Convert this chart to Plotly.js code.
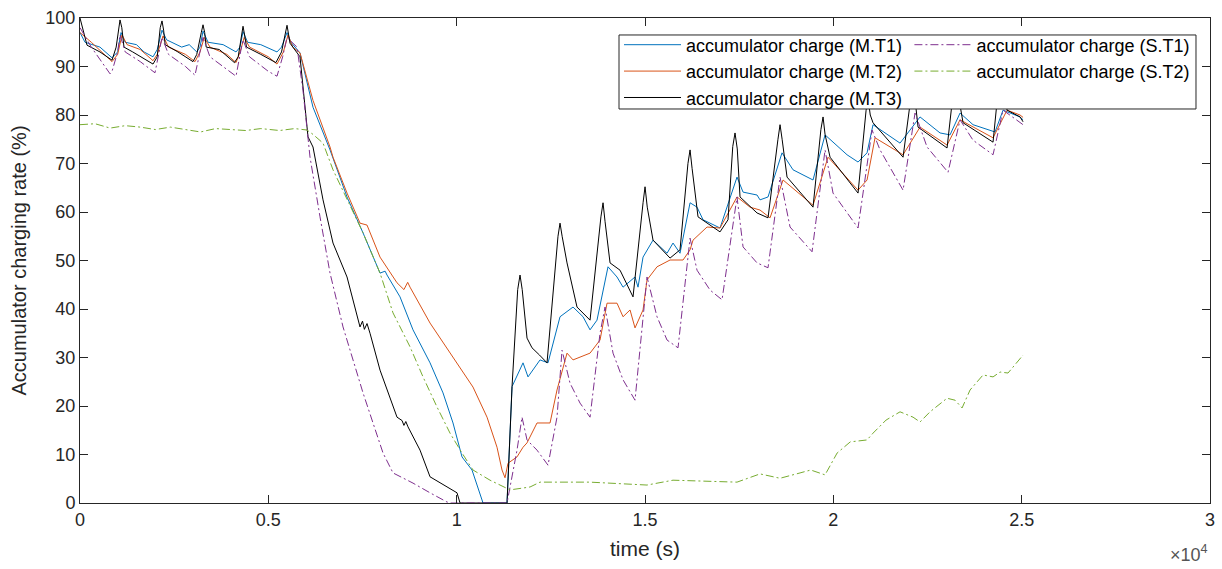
<!DOCTYPE html>
<html>
<head>
<meta charset="utf-8">
<script src="https://cdn.plot.ly/plotly-3.0.1.min.js"></script>
<style>html,body{margin:0;padding:0;background:#fff;}#chart{width:1222px;height:569px;}</style>
</head>
<body>
<div id="chart"></div>
<script>
// ---- Data (time in seconds, charge in %) ----
const mt1_t = [0,133,530,850,1000,1089,1200,1500,1700,1938,2050,2177,2300,2700,2900,3100,3186,3266,3400,3800,4142,4248,4328,4450,4800,5100,5230,5350,5496,5600,5841,6186,6638,7089,7514,7965,8100,8151,8496,8841,9293,9638,9903,10142,10408,10700,11337,11470,11762,11894,12213,12425,12744,13089,13355,13541,13726,14018,14257,14417,14735,14815,14948,15213,15585,15744,15930,16196,16381,16541,16992,17443,17603,17975,18054,18266,18638,18930,19461,19780,20178,20364,20656,20895,21054,21771,22302,22833,23099,23364,23709,24293,24506,24957,25037];
const mt1_v = [97,95,94,91.8,93,97,95,94.5,93,92,93.5,97.5,95.5,94,94.5,93,94,97.3,95,94.5,93,94,97.2,95,94.5,93.5,93,94,97,95,92.8,81.6,72.8,63.1,55.7,47.4,47.8,47,42.5,35.7,28.9,22.7,16.5,9.5,6.8,0,0,24,28.9,26,29.5,28.9,38.4,40.4,38.4,35.7,37.7,48.7,46.6,44.5,46.6,44.5,50.7,54.2,51.5,53.6,51.5,61.9,61,58.4,56.7,67.2,64.1,63.5,62.5,63.1,72.2,68.7,66.6,75.9,73.2,71.8,70.3,72.2,78,74.2,79.6,76.3,75.9,80.4,78,76.5,81,79.6,79];

const mt2_t = [0,300,850,1000,1115,1250,1600,1938,2050,2204,2350,2800,3053,3186,3300,3450,3900,4142,4250,4360,4500,5000,5230,5400,5522,5650,5841,6186,6638,6717,7089,7434,7620,7965,8416,8600,8700,8762,9293,9903,10434,10806,11071,11204,11284,11363,11602,11762,11868,12133,12479,12664,12930,13089,13541,13806,13992,14257,14417,14603,14735,14948,15054,15319,15665,16010,16196,16275,16647,16992,17443,17789,18054,18320,18665,19461,19859,20656,20895,21107,21851,22302,23019,23364,24240,24612,24957,25037];
const mt2_v = [97,95,91,92.5,96.5,94.5,93.5,91.2,92.5,96.3,94,92.5,91,93,96,94,92.5,90.8,93,96,94,92,90.5,93,96.5,94,92.8,83,73.4,71.3,63.9,57.7,57.3,50.7,45.4,44,45.5,44.5,37.1,30.1,23.9,17.7,11.5,6.8,5.2,8.2,9.5,11.5,12.4,16.5,16.5,23.3,30.9,29.5,30.9,33.6,41.2,41.2,38.4,39.8,36.1,39.8,46,48.7,50.1,50.1,52.2,54.2,56.9,56.7,63.1,61,60.4,58.8,66.6,61.4,71.3,64.5,66.6,75.3,71.8,77.5,73.8,79,75.3,81,80,79.5];

const mt3_t = [0,100,186,530,850,960,1020,1062,1110,1168,1400,1938,2050,2130,2177,2220,2260,2600,3000,3100,3220,3266,3310,3350,3700,4100,4200,4280,4328,4370,4420,4800,5200,5350,5450,5496,5540,5576,5841,5974,6053,6186,6452,6717,7089,7434,7500,7550,7620,7700,7965,8416,8550,8600,8650,8708,9027,9293,9744,10009,10089,11300,11337,11470,11620,11682,11740,11868,12000,12200,12399,12690,12744,12800,12930,13195,13541,13830,13886,13940,14072,14337,14682,14950,15001,15060,15213,15665,15930,16140,16196,16250,16408,16992,17204,17330,17390,17450,17523,17975,18266,18530,18585,18640,18771,19461,19670,19727,19780,19913,20656,20870,20921,20980,21054,21851,22116,22249,23019,23231,23444,24240,24426,24612,24957,25037];
const mt3_v = [100,97,94.4,93,91.3,94,98,99.6,98,94,93,90.5,92,98,99.4,97.5,94.5,93,91,92.5,97,98.6,97,94,93.5,90.8,92,96.5,98.3,96.5,94,92.5,90.8,93,97,98.5,96.5,94.8,92,81.6,75.5,73.4,62.5,53.6,46.6,36.3,37.5,35.8,37,35,27.4,17.7,17,16,16.8,15.7,10.9,5.4,3.3,2.1,0,0,0,24,44,47,44,34,32,30.5,28.9,55,57.7,55,49.5,40.4,37.7,59,61.9,58,49.5,48,42.5,62,65.2,61,54.2,50.5,52.2,70,72.8,69,59,55.9,58.4,73.5,76.3,73,63.1,59.8,58.8,75,78,75,67.2,61,77,79.6,76,71.3,63.9,81,83.5,80,78.4,71.3,87,77.5,73.2,88,78.4,74.4,89,81,79.6,78.6];

const st1_t = [0,300,797,850,1000,1062,1200,1600,1991,2100,2177,2350,2800,3053,3180,3266,3450,3900,4142,4250,4328,4500,5000,5230,5380,5496,5761,5921,6107,6372,6638,6983,7354,7514,7779,8045,8310,8841,9293,9744,9850,11337,11602,11735,11868,12133,12425,12664,12797,13010,13275,13541,13806,13939,14151,14417,14735,15054,15319,15585,15877,16196,16381,16727,17045,17443,17603,17975,18266,18585,18851,19435,19780,19992,20656,21028,21240,21851,22169,22488,23045,23364,23709,24240,24506,25037];
const st1_v = [98,94,88.5,89,93,96.5,93,91,88.7,93,96,92.5,90,88.2,93,96,92,89.5,88,92.5,95.5,92,89,88,92,96,94,85,71.3,59,47.4,36.3,26.8,22.7,16.5,10.3,6.2,4.1,2.1,0.2,0,0,10.9,17.7,13,10.9,7.8,17.7,31.5,24.7,20.6,17.7,35,40.4,30.9,25.4,21.2,46.6,38.4,33.6,32,54.6,48,43.9,41.9,63.1,52.8,49.5,48.5,67.2,56.9,51.8,72.8,63.9,56.7,76.9,72.8,64.5,80.4,73.4,68.2,79,74.8,71.8,81,78];

const st2_t = [0,400,800,1200,1600,2000,2400,2800,3200,3600,4000,4400,4800,5300,5700,6027,6186,6452,6717,7089,7514,7965,8310,8762,9107,9478,9824,10142,10434,10886,11417,11948,12213,13541,15054,15744,17443,18054,18585,19116,19400,19780,20100,20450,20895,21054,21400,21771,22116,22302,22567,23019,23231,23418,23630,23975,24240,24426,24638,25037];
const st2_v = [78,78.2,77.3,77.8,77.5,77,77.5,77,76.5,77.2,77,76.8,77.2,76.8,77.2,76.9,76,74.2,68.7,62.5,55.7,47.4,39.2,32.2,26,19.8,14.4,10.3,6.8,4.7,2.7,3.3,4.3,4.3,3.7,4.7,4.3,6,5.1,6.2,6.8,5.8,10.3,12.6,13,14.4,17.1,18.8,17.7,16.7,18.8,21.6,21.2,19.6,23.3,26.4,26,27,26.8,30.5];

const seriesNames = ['accumulator charge (M.T1)','accumulator charge (M.T2)','accumulator charge (M.T3)','accumulator charge (S.T1)','accumulator charge (S.T2)'];
const xTickVals = [0,5000,10000,15000,20000,25000,30000];
const xTickText = ['0','0.5','1','1.5','2','2.5','3'];
const yTickVals = [0,10,20,30,40,50,60,70,80,90,100];

const axisColor = '#262626';
const traces = [
  {x: mt1_t, y: mt1_v, name: seriesNames[0], legend: 'legend', line: {color: '#0072BD', width: 1}},
  {x: mt2_t, y: mt2_v, name: seriesNames[1], legend: 'legend', line: {color: '#D95319', width: 1}},
  {x: mt3_t, y: mt3_v, name: seriesNames[2], legend: 'legend', line: {color: '#000000', width: 1}},
  {x: st1_t, y: st1_v, name: seriesNames[3], legend: 'legend2', line: {color: '#7E2F8E', width: 1, dash: '8px,3px,2px,3px'}},
  {x: st2_t, y: st2_v, name: seriesNames[4], legend: 'legend2', line: {color: '#77AC30', width: 1, dash: '8px,3px,2px,3px'}}
].map(t => Object.assign({type: 'scatter', mode: 'lines', hoverinfo: 'skip'}, t));

const legendCommon = {
  bgcolor: 'rgba(0,0,0,0)', borderwidth: 0, orientation: 'v',
  font: {family: 'Liberation Sans, Arial, sans-serif', size: 18, color: '#000'},
  xanchor: 'left', yanchor: 'top', itemwidth: 57, tracegroupgap: 0
};

const layout = {
  width: 1222, height: 569,
  margin: {l: 80, r: 12, t: 18, b: 66, autoexpand: false},
  paper_bgcolor: '#fff', plot_bgcolor: '#fff',
  font: {family: 'Liberation Sans, Arial, sans-serif', size: 18, color: axisColor},
  showlegend: true,
  legend: Object.assign({}, legendCommon, {x: 0.477, y: 0.9825}),
  legend2: Object.assign({}, legendCommon, {x: 0.734, y: 0.9825}),
  xaxis: {
    range: [0, 30000], tickvals: xTickVals, ticktext: xTickText,
    showgrid: false, zeroline: false, showline: true, mirror: 'ticks',
    linecolor: axisColor, linewidth: 1, ticks: 'inside', ticklen: 8, tickcolor: axisColor,
    tickfont: {size: 18, color: axisColor},
    title: {text: 'time (s)', font: {size: 21, color: axisColor}, standoff: 12}
  },
  yaxis: {
    range: [0, 100], tickvals: yTickVals,
    showgrid: false, zeroline: false, showline: true, mirror: 'ticks',
    linecolor: axisColor, linewidth: 1, ticks: 'inside', ticklen: 8, tickcolor: axisColor,
    tickfont: {size: 18, color: axisColor},
    title: {text: 'Accumulator charging rate (%)', font: {size: 20, color: axisColor}, standoff: 13}
  },
  shapes: [{
    type: 'rect', xref: 'paper', yref: 'paper', x0: 0.477, x1: 0.9876, y0: 0.8124, y1: 0.965,
    fillcolor: '#ffffff', line: {color: axisColor, width: 1}, layer: 'above'
  }],
  annotations: [{
    xref: 'paper', yref: 'paper', x: 1.0, y: -0.105, xanchor: 'right', yanchor: 'middle',
    text: '×10<sup>4</sup>', showarrow: false, font: {size: 18, color: '#555'}
  }]
};

Plotly.newPlot('chart', traces, layout, {staticPlot: true, displayModeBar: false});
</script>
</body>
</html>
